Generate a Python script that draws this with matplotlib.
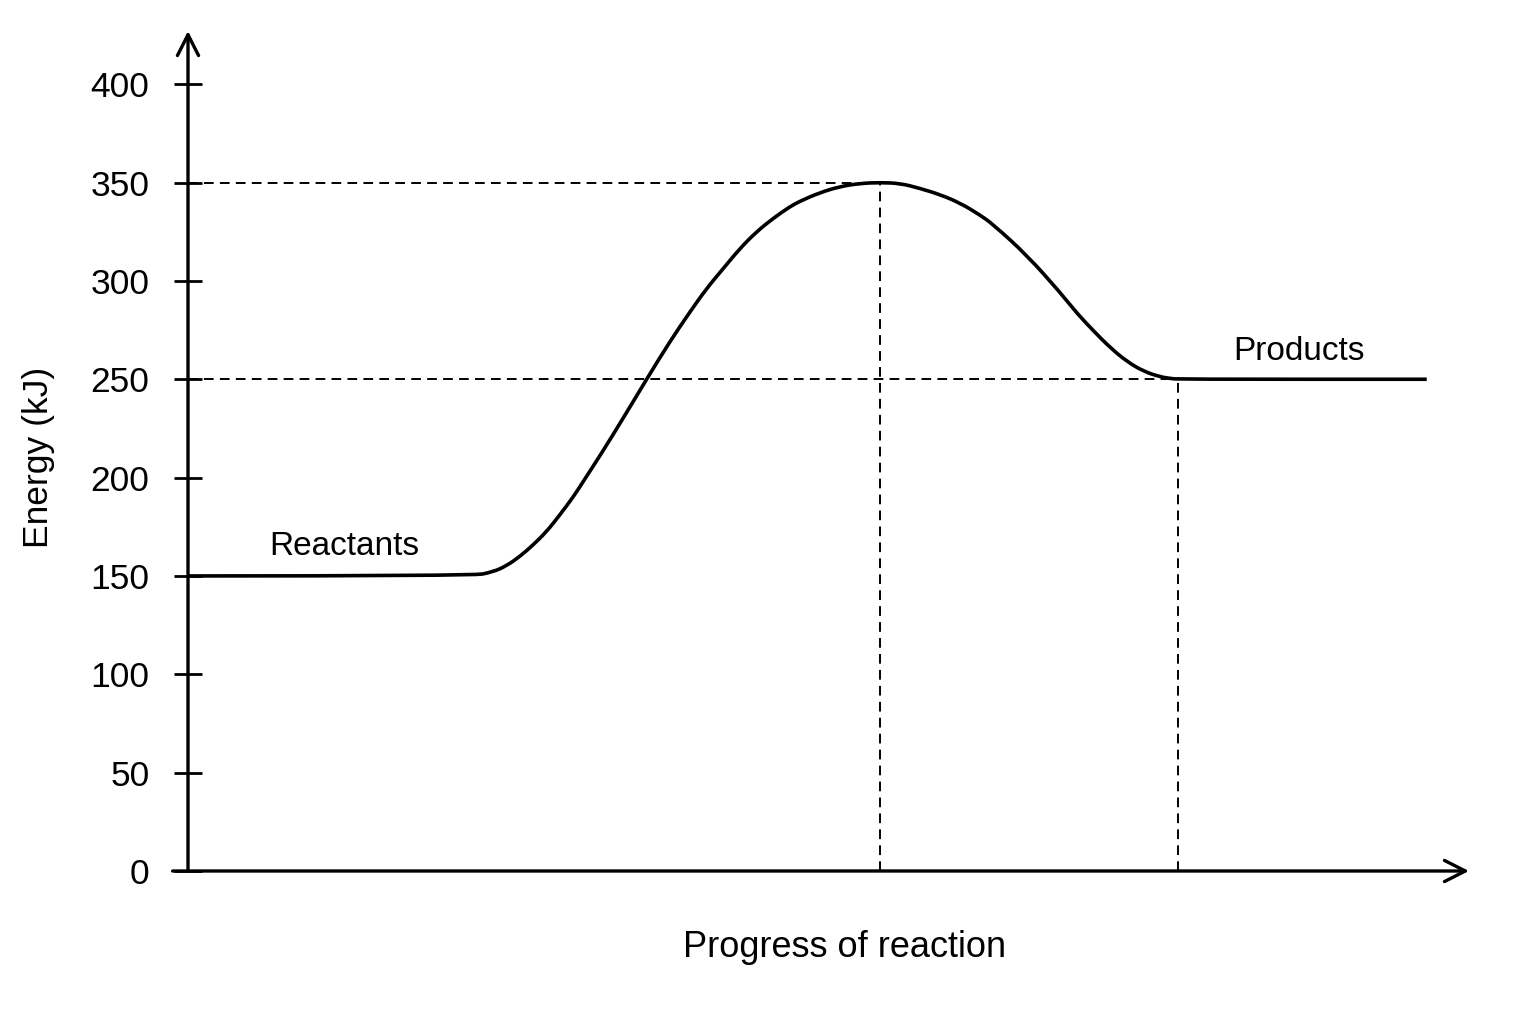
import matplotlib
matplotlib.use("Agg")
import matplotlib.pyplot as plt
from matplotlib.path import Path
from matplotlib.patches import PathPatch

plt.rcParams['font.family'] = ['Liberation Sans', 'DejaVu Sans']

# ---- data ----
progress = [0.0, 22.2, 23.8, 24.9, 25.9, 26.9, 28.0, 29.0, 30.1, 30.8,
            32.2, 34.0, 35.8, 37.6, 39.2, 40.5, 41.8, 43.1, 44.4, 45.7,
            47.0, 47.8, 49.3, 50.9, 52.5, 54.0, 55.6, 57.1, 58.7, 60.3,
            61.8, 62.8, 65.5, 68.1, 69.4, 70.7, 72.0, 73.3, 74.6, 75.9,
            76.7, 77.3, 96.7]
energy = [150, 150, 152.0, 155.3, 159.9, 165.5, 172.6, 180.8, 190.4, 197.5,
          211.5, 230.5, 250.0, 269.0, 284.4, 296.3, 306.4, 316.6, 325.1, 331.9,
          337.8, 340.6, 344.8, 348.0, 349.6, 350.0, 349.6, 347.1, 343.9, 339.5,
          333.6, 329.0, 313.0, 294.0, 283.5, 274.5, 266.0, 259.0, 254.0, 251.2,
          250.4, 250.0, 250.0]
peak_progress = 54.0
peak_energy = 350
product_progress = 77.3
product_energy = 250
y_ticks = [0, 50, 100, 150, 200, 250, 300, 350, 400]
y_label = "Energy (kJ)"
x_label = "Progress of reaction"
reactant_label = "Reactants"
product_label = "Products"

W, H = 1536, 1024
fig = plt.figure(figsize=(W / 100, H / 100), dpi=100)
fig.patch.set_facecolor('white')

x0_px, x1_px = 188, 1469
y0_px, y1_px = 871, 31
ax = fig.add_axes([x0_px / W, 1 - y0_px / H, (x1_px - x0_px) / W, (y0_px - y1_px) / H])
ax.set_xlim(0, 100)
ax.set_ylim(0, (y0_px - y1_px) / 1.967)
for s in ax.spines.values():
    s.set_visible(False)
ax.patch.set_alpha(0)

# dashed guide lines
dash = (0, (5.0, 3.2))
dlw = 1.4
ax.plot([0, peak_progress], [peak_energy, peak_energy], color='black', lw=dlw, ls=dash)
ax.plot([peak_progress, peak_progress], [0, peak_energy], color='black', lw=dlw, ls=dash)
ax.plot([0, product_progress], [product_energy, product_energy], color='black', lw=dlw, ls=dash)
ax.plot([product_progress, product_progress], [0, product_energy], color='black', lw=dlw, ls=dash)

# energy curve: the read points are used as quadratic B-spline control points
pts = list(zip(progress, energy))
verts = [pts[0]]
codes = [Path.MOVETO]
for i in range(1, len(pts) - 1):
    mid = ((pts[i][0] + pts[i + 1][0]) / 2, (pts[i][1] + pts[i + 1][1]) / 2)
    verts += [pts[i], mid]
    codes += [Path.CURVE3, Path.CURVE3]
verts.append(pts[-1])
codes.append(Path.LINETO)
ax.add_patch(PathPatch(Path(verts, codes), fill=False, edgecolor='black', lw=2.6,
                       capstyle='butt', zorder=5))

# axes with arrows
ymax = ax.get_ylim()[1]
arrow = dict(arrowstyle='->,head_length=0.75,head_width=0.38', lw=2.4, color='black',
             shrinkA=0, shrinkB=0, mutation_scale=20)
ax.annotate('', xy=(0, ymax), xytext=(0, 0), arrowprops=arrow, annotation_clip=False)
ax.annotate('', xy=(100, 0), xytext=(-1.2, 0), arrowprops=arrow, annotation_clip=False)

ax.set_yticks(y_ticks)
ax.set_yticklabels([str(v) for v in y_ticks])
ax.set_xticks([])
ax.tick_params(axis='y', direction='inout', length=19.5, width=2.0, pad=18,
               labelsize=25.5, colors='black')

fig.text(39 / W, 1 - 457 / H, y_label, rotation=90, ha='center', va='center', fontsize=25.5)
fig.text(845 / W, 1 - 957 / H, x_label, ha='center', va='baseline', fontsize=26)
fig.text(344 / W, 1 - 555 / H, reactant_label, ha='center', va='baseline', fontsize=24)
fig.text(1299 / W, 1 - 360 / H, product_label, ha='center', va='baseline', fontsize=24)

fig.savefig('out.png', dpi=100, facecolor='white')
